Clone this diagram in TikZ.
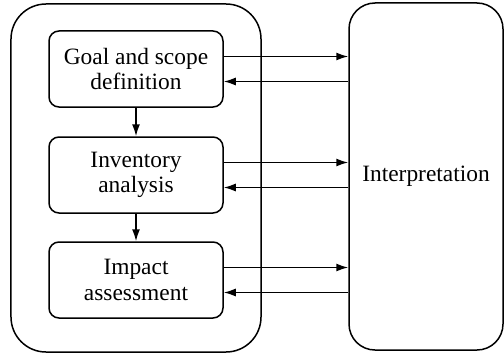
\documentclass[tikz,border=0pt]{standalone}
\usepackage{fontspec}
\setmainfont{Liberation Serif}
\usetikzlibrary{arrows.meta,calc}
\begin{document}
\begin{tikzpicture}[x=1bp,y=1bp,
    every node/.style={font=\fontsize{23.5}{25.5}\selectfont},
    stage/.style={draw,line width=1.5bp,rounded corners=10bp,minimum width=174bp,minimum height=76bp,align=center,inner sep=0pt},
    frame/.style={draw,line width=1.5bp,rounded corners=35bp,minimum width=250bp,minimum height=348bp},
    interp/.style={draw,line width=1.5bp,rounded corners=26bp,minimum width=154bp,minimum height=347bp},
    arr/.style={line width=1.5bp,-{Latex[length=12bp,width=8bp]}}]
  \useasboundingbox (0,0) rectangle (504,353);
  % life-cycle phases inside the framework
  \node[frame] (fw) at (136,175) {};
  \node[stage] (goal) at (136,284) {Goal and scope\\definition};
  \node[stage] (inv) at (136,178) {Inventory\\analysis};
  \node[stage] (imp) at (136,73) {Impact\\assessment};
  \node[interp] (int) at (426,176.5) {Interpretation};
  % sequence of phases
  \draw[arr] (goal) -- (inv);
  \draw[arr] (inv) -- (imp);
  % two-way exchange with interpretation
  \foreach \n in {goal,inv,imp}{
    \coordinate (\n-out) at ($(\n.east)+(0,12.5)$);
    \coordinate (\n-in) at ($(\n.east)+(0,-12.5)$);
    \draw[arr] (\n-out) -- (\n-out -| int.west);
    \draw[arr] (\n-in -| int.west) -- (\n-in);
  }
\end{tikzpicture}
\end{document}
